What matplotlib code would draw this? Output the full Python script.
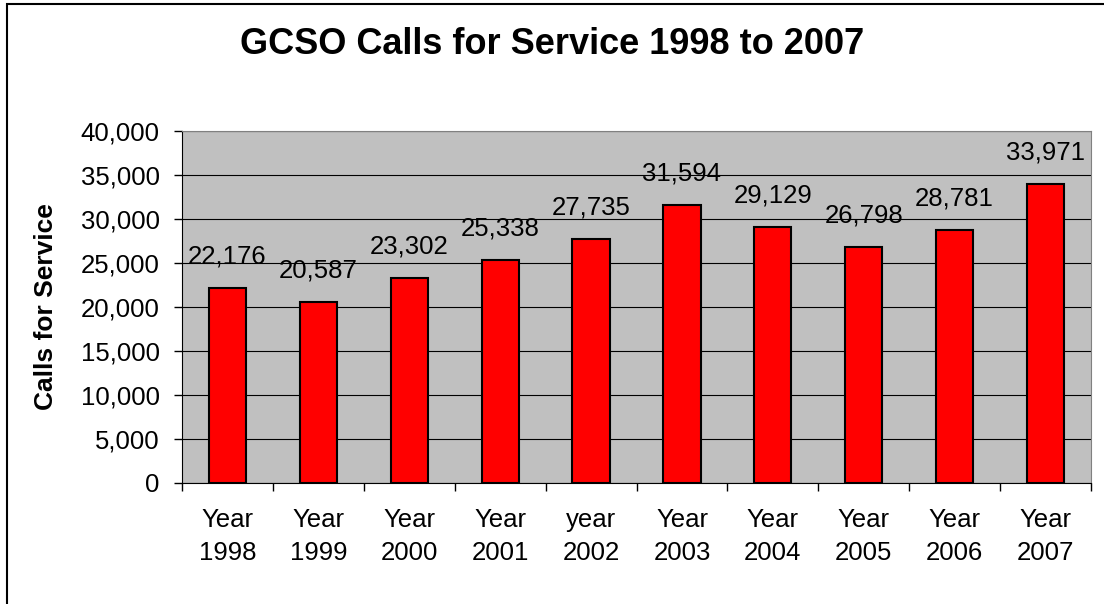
import matplotlib
matplotlib.use('Agg')
import matplotlib.pyplot as plt
from matplotlib.patches import Rectangle
from matplotlib.ticker import FuncFormatter, FixedLocator

# chart data
years = ['Year\n1998', 'Year\n1999', 'Year\n2000', 'Year\n2001', 'year\n2002',
         'Year\n2003', 'Year\n2004', 'Year\n2005', 'Year\n2006', 'Year\n2007']
calls = [22176, 20587, 23302, 25338, 27735, 31594, 29129, 26798, 28781, 33971]
y_ticks = [0, 5000, 10000, 15000, 20000, 25000, 30000, 35000, 40000]

plt.rcParams['font.family'] = ['Liberation Sans', 'DejaVu Sans']
FS = 18.5

fig = plt.figure(figsize=(11.04, 6.04), dpi=100)
# outer chart frame (left and top edges visible)
fig.patches.append(Rectangle((7 / 1104, -0.1), 1.2, (604 - 4) / 604 + 0.1,
                             transform=fig.transFigure, fill=False,
                             edgecolor='black', linewidth=1.5))

ax = fig.add_axes([182 / 1104, 1 - 483 / 604, (1091 - 182) / 1104, (483 - 131) / 604])
ax.set_facecolor('#C0C0C0')

x = list(range(len(years)))
bars = ax.bar(x, calls, width=0.41, color='#FF0000', edgecolor='black',
              linewidth=1.5, zorder=3)

for xi, v in zip(x, calls):
    ax.annotate(f'{v:,}', (xi, v), xytext=(0, 14), textcoords='offset points',
                ha='center', va='bottom', fontsize=FS)

ax.set_xlim(-0.5, len(years) - 0.5)
ax.set_ylim(0, 40000)
ax.set_yticks(y_ticks)
ax.yaxis.set_major_formatter(FuncFormatter(lambda v, p: f'{int(v):,}'))
ax.yaxis.grid(True, color='black', linewidth=0.8, zorder=0)
ax.set_axisbelow(True)

# category labels centred, tick marks between categories
ax.set_xticks(x)
ax.set_xticklabels(years, fontsize=FS, linespacing=1.5)
ax.tick_params(axis='x', which='major', length=0, pad=18)
ax.xaxis.set_minor_locator(FixedLocator([i - 0.5 for i in range(len(years) + 1)]))
ax.tick_params(axis='x', which='minor', length=6, width=1, color='black')
ax.tick_params(axis='y', length=6, width=1, pad=10, labelsize=FS)

for side in ['top', 'right']:
    ax.spines[side].set_color('#808080')
ax.spines['left'].set_color('black')
ax.spines['bottom'].set_color('black')

ax.set_ylabel('Calls for Service', fontsize=19, fontweight='bold')
ax.yaxis.set_label_coords((58 - 182) / 909, 0.5)
fig.text(0.5, 1 - 45 / 604, 'GCSO Calls for Service 1998 to 2007', ha='center',
         va='center', fontsize=26, fontweight='bold')

fig.savefig('out.png', dpi=100)
